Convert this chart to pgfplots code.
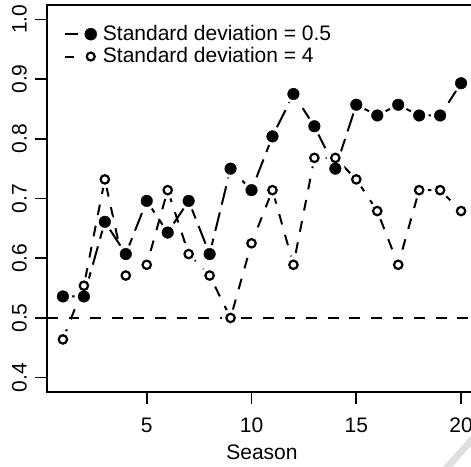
\documentclass[border=0pt]{standalone}
\usepackage{pgfplots}
\pgfplotsset{compat=1.18}
\usepackage{fontspec}
\setmainfont{Liberation Sans}
\pgfplotstableread{
x y
1 0.536
2 0.536
3 0.661
4 0.607
5 0.696
6 0.643
7 0.696
8 0.607
9 0.750
10 0.714
11 0.804
12 0.875
13 0.821
14 0.750
15 0.857
16 0.839
17 0.857
18 0.839
19 0.839
20 0.893
}\sdlow
\pgfplotstableread{
x y
1 0.464
2 0.554
3 0.732
4 0.571
5 0.589
6 0.714
7 0.607
8 0.571
9 0.500
10 0.625
11 0.714
12 0.589
13 0.768
14 0.768
15 0.732
16 0.679
17 0.589
18 0.714
19 0.714
20 0.679
}\sdhigh
\begin{document}
\fontsize{21bp}{25bp}\selectfont
\begin{tikzpicture}
\begin{axis}[
  scale only axis, width=430bp, height=387bp,
  xmin=0.24, xmax=20.76, ymin=0.376, ymax=1.024,
  axis line style={line width=1.6bp},
  xtick={5,10,15,20}, ytick={0.4,0.5,0.6,0.7,0.8,0.9,1.0},
  yticklabels={0.4,0.5,0.6,0.7,0.8,0.9,1.0},
  xtick pos=left, ytick pos=left,
  tick align=outside, major tick length=12bp,
  tick style={line width=1.6bp, black},
  /pgf/number format/assume math mode=true,
  ticklabel style={font=\fontsize{21bp}{25bp}\selectfont},
  yticklabel style={rotate=90, anchor=south, inner sep=0pt},
  xticklabel style={anchor=north, inner sep=0pt},
  yticklabel shift=8bp,
  xticklabel shift=14bp,
  xlabel={Season},
  xlabel style={at={(axis description cs:0.5,0)}, anchor=north, inner sep=0pt, yshift=-53bp, font=\fontsize{21bp}{25bp}\selectfont},
  legend style={at={(axis description cs:0.0385,0.954)}, anchor=north west, draw=none, fill=none, inner sep=0pt, row sep=0bp, font=\fontsize{21bp}{25bp}\selectfont, cells={anchor=west}},
]
\addlegendimage{legend image code/.code={\draw[line width=2bp] (0bp,0bp) -- (13bp,0bp); \fill (26bp,0bp) circle[radius=6bp]; \path (0bp,0bp) (36bp,0bp);}}
\addlegendentry{Standard deviation = 0.5}
\addlegendimage{legend image code/.code={\draw[line width=2bp] (0bp,0bp) -- (9.5bp,0bp); \draw[line width=2.2bp, fill=white] (26bp,0bp) circle[radius=4bp]; \path (0bp,0bp) (36bp,0bp);}}
\addlegendentry{Standard deviation = 4}

\addplot[forget plot, line width=2bp, dash pattern=on 19bp off 8bp, mark=none] table {\sdlow};
\addplot[forget plot, line width=2bp, dash pattern=on 10.8bp off 10.8bp, mark=none] table {\sdhigh};
\addplot[white, forget plot, only marks, mark=*, mark size=9bp] table {\sdlow};
\addplot[white, forget plot, only marks, mark=*, mark size=8.5bp] table {\sdhigh};
\addplot[forget plot, line width=2bp, dash pattern=on 10.8bp off 10.8bp, mark=none] coordinates {(0.24,0.5) (20.76,0.5)};
\addplot[forget plot, only marks, mark=*, mark size=5.8bp, mark options={fill=black, draw=none}] table {\sdlow};
\addplot[forget plot, only marks, mark=*, mark size=4.2bp, mark options={fill=white, draw=black, line width=2.2bp}] table {\sdhigh};
\end{axis}
\draw[gray!25, line width=7bp, line cap=round] (396bp,-80bp) -- (430bp,-42bp);
\pgfresetboundingbox
\path[use as bounding box] (-47bp,-75bp) rectangle (424bp,392bp);
\end{tikzpicture}
\end{document}
